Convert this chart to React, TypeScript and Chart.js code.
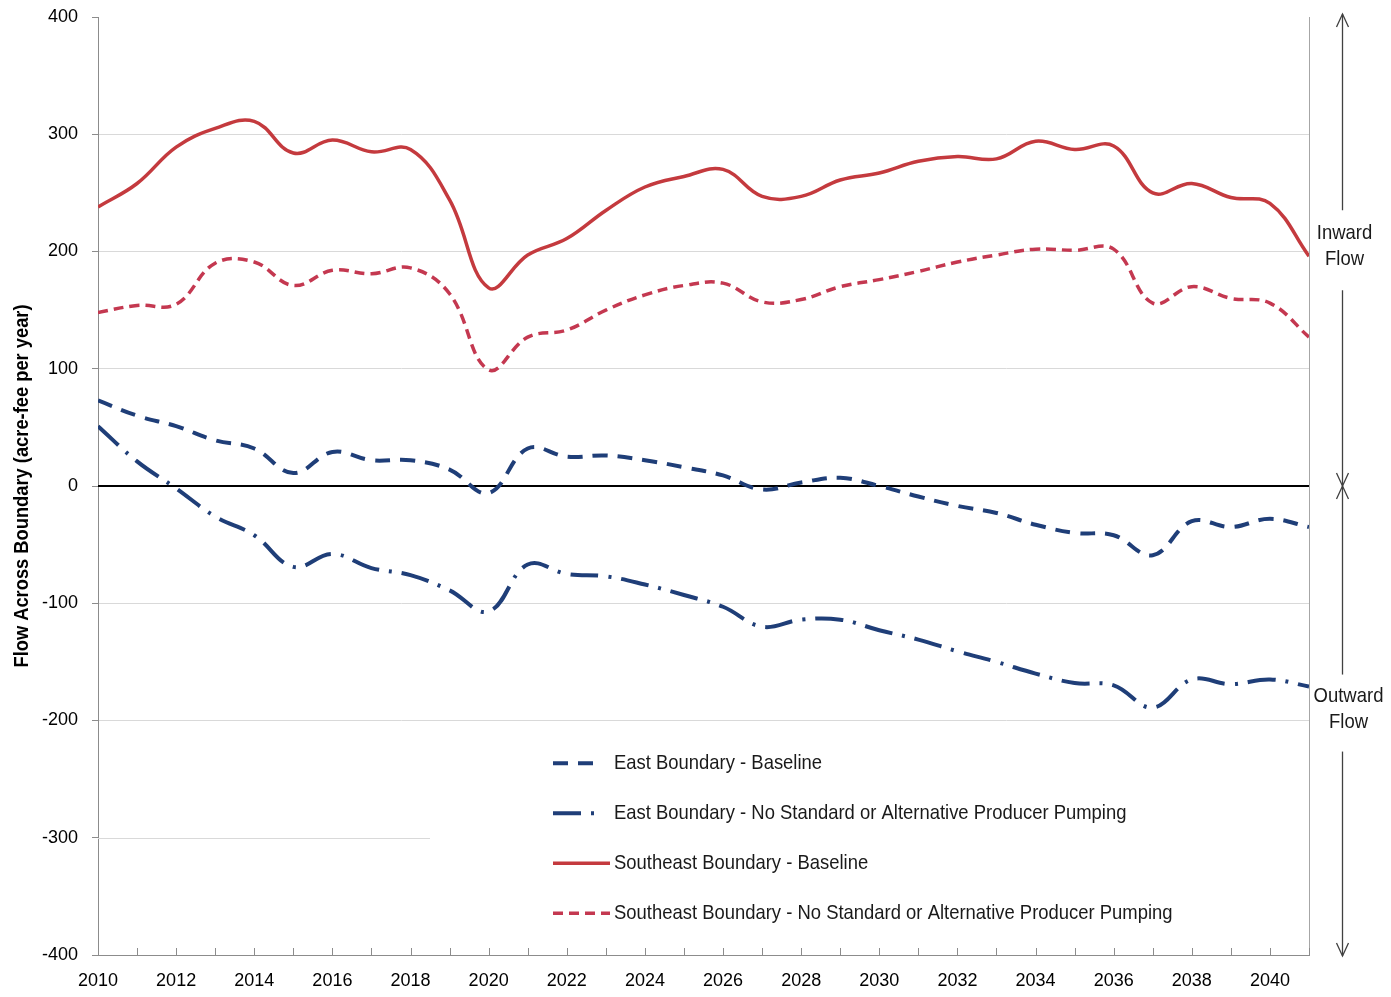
import React, { useEffect, useRef } from "react";
import { Chart, registerables } from "chart.js";

Chart.register(...registerables);

const years = [
  2010, 2011, 2012, 2013, 2014, 2015, 2016, 2017, 2018, 2019, 2020,
  2021, 2022, 2023, 2024, 2025, 2026, 2027, 2028, 2029, 2030,
  2031, 2032, 2033, 2034, 2035, 2036, 2037, 2038, 2039, 2040, 2041,
];

const eastBaseline = [
  73, 60, 51, 39, 32, 11, 29, 22, 22, 14, -6,
  32, 25, 26, 22, 16, 9, -3, 3, 7, 0,
  -9, -17, -23, -33, -40, -42, -59, -30, -35, -28, -35,
];

const eastNoStandard = [
  51, 21, -2, -26, -42, -69, -58, -70, -76, -89, -107,
  -67, -75, -77, -84, -93, -103, -120, -114, -114, -123,
  -131, -141, -150, -160, -168, -170, -189, -165, -169, -165, -171,
];

const southeastBaseline = [
  238, 258, 289, 305, 311, 284, 295, 285, 287, 244, 169,
  197, 211, 235, 255, 264, 270, 247, 247, 261, 267,
  277, 281, 279, 294, 287, 290, 250, 258, 246, 241, 196,
];

const southeastNoStandard = [
  148, 154, 155, 190, 191, 171, 184, 181, 186, 164, 99,
  127, 133, 150, 163, 171, 173, 157, 159, 170, 176,
  183, 191, 197, 202, 201, 202, 156, 170, 160, 156, 127,
];

const seriesNames = [
  "East Boundary - Baseline",
  "East Boundary - No Standard or Alternative Producer Pumping",
  "Southeast Boundary - Baseline",
  "Southeast Boundary - No Standard or Alternative Producer Pumping",
];

const yTicks = [400, 300, 200, 100, 0, -100, -200, -300, -400];
const yTitle = "Flow Across Boundary (acre-fee per year)";
const inwardLabel = ["Inward", "Flow"];
const outwardLabel = ["Outward", "Flow"];

const REGULAR = '"Liberation Sans", Arial, sans-serif';

const BLUE = "rgb(31,62,120)";
const RED = "rgb(196,58,62)";
const RED2 = "rgb(196,56,80)";

const pts = (vals: number[]) => years.map((x, i) => ({ x, y: vals[i] }));

function narrowText(ctx: CanvasRenderingContext2D, text: string, x: number, y: number, align: CanvasTextAlign, squeeze: number) {
  ctx.save();
  ctx.translate(x, y);
  ctx.scale(squeeze, 1);
  ctx.textAlign = align;
  ctx.fillText(text, 0, 0);
  ctx.restore();
}

const decorPlugin = {
  id: "decor",
  beforeDatasetsDraw(chart: any) {
    const { ctx, chartArea } = chart;
    const xs = chart.scales.x;
    const ys = chart.scales.y;
    ctx.save();
    // partial -300 gridline
    ctx.strokeStyle = "#d9d9d9";
    ctx.lineWidth = 1;
    const y300 = Math.round(ys.getPixelForValue(-300)) + 0.5;
    ctx.beginPath();
    ctx.moveTo(chartArea.left, y300);
    ctx.lineTo(chartArea.left + 332, y300);
    ctx.stroke();
    // plot border right
    ctx.strokeStyle = "#a6a6a6";
    ctx.beginPath();
    ctx.moveTo(chartArea.right + 0.5, chartArea.top);
    ctx.lineTo(chartArea.right + 0.5, chartArea.bottom);
    ctx.stroke();
    // zero line
    const y0 = ys.getPixelForValue(0);
    ctx.strokeStyle = "#000";
    ctx.lineWidth = 2;
    ctx.beginPath();
    ctx.moveTo(chartArea.left, y0);
    ctx.lineTo(chartArea.right, y0);
    ctx.stroke();
    // inward x ticks
    ctx.strokeStyle = "#8c8c8c";
    ctx.lineWidth = 1;
    for (const yr of years) {
      const px = Math.round(xs.getPixelForValue(yr)) + 0.5;
      ctx.beginPath();
      ctx.moveTo(px, chartArea.bottom);
      ctx.lineTo(px, chartArea.bottom - 7);
      ctx.stroke();
    }
    ctx.restore();
  },
  afterDraw(chart: any) {
    const { ctx, chartArea } = chart;
    const ys = chart.scales.y;
    ctx.save();
    ctx.textBaseline = "middle";
    ctx.fillStyle = "#000";
    // y axis title
    ctx.save();
    ctx.translate(22, (chartArea.top + chartArea.bottom) / 2);
    ctx.rotate(-Math.PI / 2);
    ctx.font = `bold 20px ${REGULAR}`;
    narrowText(ctx, yTitle, 0, 0, "center", 0.915);
    ctx.restore();
    // legend
    const lx = chartArea.left + 455;
    const ly0 = ys.getPixelForValue(-236.5);
    const rowH = 50;
    ctx.font = `21px ${REGULAR}`;
    ctx.fillStyle = "#1a1a1a";
    chart.data.datasets.forEach((ds: any, i: number) => {
      const y = ly0 + i * rowH;
      ctx.strokeStyle = ds.borderColor;
      ctx.lineWidth = ds.borderWidth;
      ctx.setLineDash(ds.borderDash || []);
      ctx.beginPath();
      const end = i < 2 ? lx + 47 : lx + 57;
      ctx.moveTo(lx, y);
      ctx.lineTo(end, y);
      ctx.stroke();
      ctx.setLineDash([]);
      narrowText(ctx, ds.label, lx + 61, y, "left", 0.878);
    });
    // right annotation
    const ax = chartArea.right + 33.5;
    const y0 = ys.getPixelForValue(0);
    const yTop = chartArea.top - 3;
    const yBot = chartArea.bottom + 1;
    ctx.strokeStyle = "#404040";
    ctx.lineWidth = 1.3;
    const seg = (a: number, b: number) => {
      ctx.beginPath();
      ctx.moveTo(ax, a);
      ctx.lineTo(ax, b);
      ctx.stroke();
    };
    const inY = ys.getPixelForValue(213);
    const outY = ys.getPixelForValue(-183);
    seg(yTop, inY - 26);
    seg(inY + 54, y0);
    seg(y0, outY - 26);
    seg(outY + 51, yBot);
    const head = (tipY: number, dir: number) => {
      ctx.beginPath();
      ctx.moveTo(ax - 6, tipY - dir * 13);
      ctx.lineTo(ax, tipY);
      ctx.lineTo(ax + 6, tipY - dir * 13);
      ctx.stroke();
    };
    head(yTop, -1);
    head(y0, 1);
    head(y0, -1);
    head(yBot, 1);
    ctx.font = `21px ${REGULAR}`;
    ctx.fillStyle = "#1a1a1a";
    narrowText(ctx, inwardLabel[0], ax + 2, inY - 3, "center", 0.88);
    narrowText(ctx, inwardLabel[1], ax + 2, inY + 23, "center", 0.88);
    narrowText(ctx, outwardLabel[0], ax + 6, outY - 4, "center", 0.88);
    narrowText(ctx, outwardLabel[1], ax + 6, outY + 22, "center", 0.88);
    ctx.restore();
  },
};

export default function App() {
  const ref = useRef<HTMLCanvasElement>(null);
  useEffect(() => {
    document.body.style.margin = "0";
    const chart = new Chart(ref.current!, {
      type: "line",
      data: {
        datasets: [
          {
            label: seriesNames[0],
            data: pts(eastBaseline),
            borderColor: BLUE,
            borderWidth: 4,
            borderDash: [15, 10],
            pointRadius: 0,
            tension: 0.4,
          },
          {
            label: seriesNames[1],
            data: pts(eastNoStandard),
            borderColor: BLUE,
            borderWidth: 4,
            borderDash: [28, 10, 3, 10],
            pointRadius: 0,
            tension: 0.4,
          },
          {
            label: seriesNames[2],
            data: pts(southeastBaseline),
            borderColor: RED,
            borderWidth: 3.5,
            pointRadius: 0,
            tension: 0.4,
          },
          {
            label: seriesNames[3],
            data: pts(southeastNoStandard),
            borderColor: RED2,
            borderWidth: 3.5,
            borderDash: [10, 6],
            pointRadius: 0,
            tension: 0.4,
          },
        ],
      },
      options: {
        animation: false,
        responsive: false,
        maintainAspectRatio: false,
        layout: { padding: { top: 17, right: 82, left: 0, bottom: 0 } },
        plugins: { legend: { display: false }, tooltip: { enabled: false } },
        scales: {
          x: {
            type: "linear",
            min: 2010,
            max: 2041,
            afterFit: (s: any) => {
              s.height = 42;
              s.paddingLeft = 0;
              s.paddingRight = 0;
            },
            grid: { display: true, drawOnChartArea: false, drawTicks: false, color: "rgba(0,0,0,0)" },
            border: { display: true, color: "#8c8c8c", width: 1 },
            afterBuildTicks: (s: any) => {
              s.ticks = years.map((v) => ({ value: v }));
            },
            ticks: {
              autoSkip: false,
              maxRotation: 0,
              padding: 15,
              color: "#000",
              font: { family: REGULAR, size: 18 },
              callback: (v: any) => (Number(v) % 2 === 0 ? String(v) : ""),
            },
          },
          y: {
            min: -400,
            max: 400,
            afterFit: (s: any) => {
              s.width = 98;
              s.paddingTop = 0;
              s.paddingBottom = 0;
            },
            afterBuildTicks: (s: any) => {
              s.ticks = yTicks.map((v) => ({ value: v }));
            },
            border: { display: true, color: "#8c8c8c", width: 1 },
            grid: {
              color: (c: any) => {
                const v = c.tick && c.tick.value;
                if (v === 400 || v === -300 || v === 0 || v === -400) return "rgba(0,0,0,0)";
                return "#d9d9d9";
              },
              tickColor: "#8c8c8c",
              tickLength: 6,
            },
            ticks: {
              padding: 14,
              color: "#000",
              font: { family: REGULAR, size: 18 },
            },
          },
        },
      },
      plugins: [decorPlugin],
    });
    return () => chart.destroy();
  }, []);
  return (
    <div style={{ position: "fixed", left: 0, top: 0, width: 1391, height: 997, background: "#fff" }}>
      <canvas ref={ref} width={1391} height={997} style={{ width: 1391, height: 997 }} />
    </div>
  );
}
